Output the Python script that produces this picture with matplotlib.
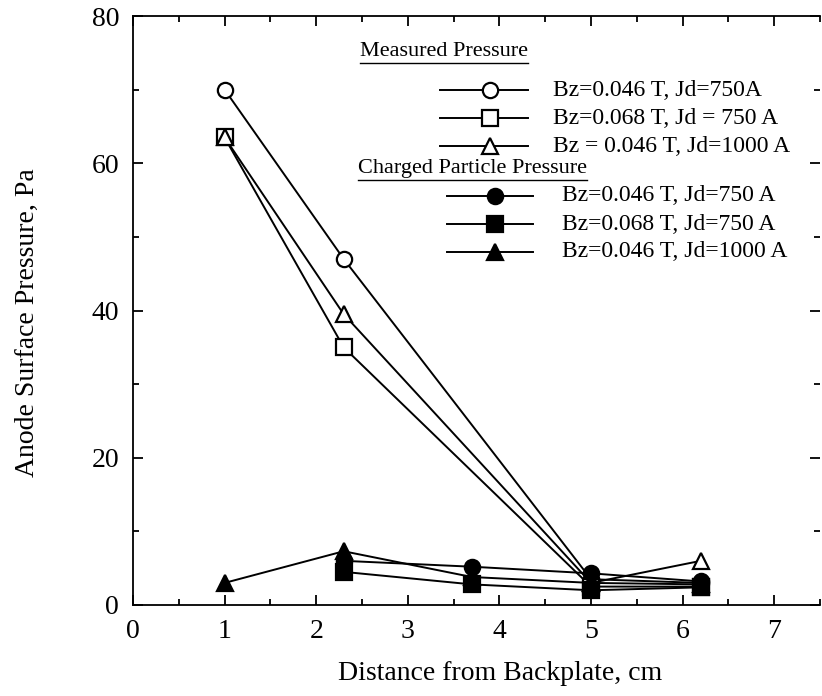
import matplotlib
matplotlib.use("Agg")
import matplotlib.pyplot as plt
from matplotlib.lines import Line2D
from matplotlib.ticker import MultipleLocator

plt.rcParams['font.family'] = ['Liberation Serif', 'DejaVu Serif']

# distance from backplate, cm
x_all = [1.0, 2.3, 3.7, 5.0, 6.2]
x_meas = [1.0, 2.3, 5.0, 6.2]
x_charged = [2.3, 3.7, 5.0, 6.2]

# measured pressure, Pa
meas_046_750 = [70.0, 47.0, 3.5, 3.0]
meas_068_750 = [63.5, 35.0, 2.5, 2.5]
meas_046_1000 = [63.5, 39.5, 3.0, 6.0]

# charged particle pressure, Pa
chg_046_750 = [6.0, 5.2, 4.3, 3.2]
chg_068_750 = [4.5, 2.8, 2.0, 2.4]
chg_046_1000 = [3.0, 7.3, 3.8, 3.0, 2.8]

meas_labels = ["Bz=0.046 T, Jd=750A", "Bz=0.068 T, Jd = 750 A", "Bz = 0.046 T, Jd=1000 A"]
chg_labels = ["Bz=0.046 T, Jd=750 A", "Bz=0.068 T, Jd=750 A", "Bz=0.046 T, Jd=1000 A"]

W, H = 822, 696
fig = plt.figure(figsize=(W / 100, H / 100), dpi=100)
ax = fig.add_axes([133 / W, 1 - 605 / H, (820 - 133) / W, (605 - 16) / H])

lw = 1.4
ms = 11
series = [
    (x_meas, meas_046_750, 'o', 'white'),
    (x_meas, meas_068_750, 's', 'white'),
    (x_meas, meas_046_1000, '^', 'white'),
    (x_charged, chg_046_750, 'o', 'black'),
    (x_charged, chg_068_750, 's', 'black'),
    (x_all, chg_046_1000, '^', 'black'),
]
for xs, ys, m, fc in series:
    ax.plot(xs, ys, color='black', lw=lw, marker=m, ms=ms, mfc=fc, mec='black', mew=1.6,
            clip_on=False)

ax.set_xlim(0, 7.5)
ax.set_ylim(0, 80)
ax.xaxis.set_major_locator(MultipleLocator(1))
ax.xaxis.set_minor_locator(MultipleLocator(0.5))
ax.yaxis.set_major_locator(MultipleLocator(20))
ax.yaxis.set_minor_locator(MultipleLocator(10))
ax.tick_params(which='both', direction='in', top=True, right=True, width=1.3)
ax.tick_params(which='major', length=7, labelsize=20, pad=10)
ax.tick_params(which='minor', length=4)
ax.spines['right'].set_visible(False)
for s in ['left', 'top', 'bottom']:
    ax.spines[s].set_linewidth(1.3)

ax.set_xlabel("Distance from Backplate, cm", fontsize=20)
ax.set_ylabel("Anode Surface Pressure, Pa", fontsize=20)
ax.xaxis.set_label_coords(0.534, -0.095)
ax.yaxis.set_label_coords(-0.135, 0.479)


def px(x, y):
    return x / W, 1 - y / H


# legend, drawn by hand to follow the original layout
def header(text, x, y):
    t = fig.text(*px(x, y), text, fontsize=16, va='center', ha='left')
    fig.canvas.draw()
    bb = t.get_window_extent()
    yl = bb.y0 - 1
    fig.add_artist(Line2D([bb.x0 / W, bb.x1 / W], [yl / H, yl / H], color='black', lw=1.0))


def entry(label, marker, fc, x0, x1, xm, xt, y):
    fig.add_artist(Line2D([x0 / W, xm / W, x1 / W], [1 - y / H] * 3, color='black', lw=lw,
                          marker=marker, ms=ms, mfc=fc, mec='black', mew=1.6, markevery=[1]))
    fig.text(*px(xt, y), label, fontsize=17, va='center', ha='left')


header("Measured Pressure", 360, 52)
for i, (lab, m) in enumerate(zip(meas_labels, ['o', 's', '^'])):
    entry(lab, m, 'white', 440, 528, 490, 553, 90 + i * 28)

header("Charged Particle Pressure", 358, 169)
for i, (lab, m) in enumerate(zip(chg_labels, ['o', 's', '^'])):
    entry(lab, m, 'black', 447, 533, 495, 562, 196 + i * 28)

fig.savefig("out.png", dpi=100)
